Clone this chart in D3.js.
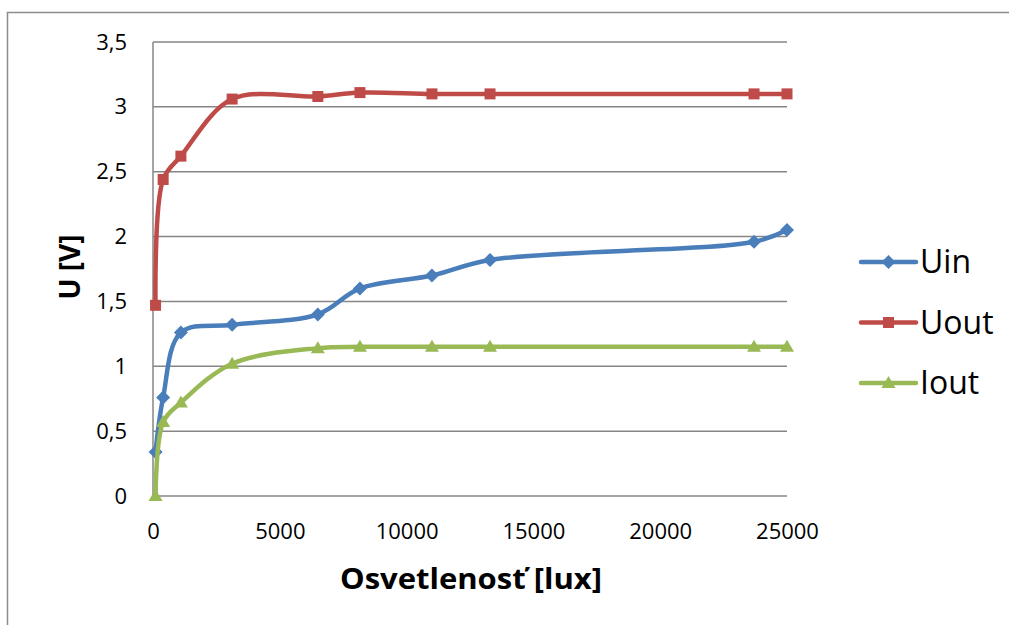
<!DOCTYPE html>
<html>
<head>
<meta charset="utf-8">
<script src="https://d3js.org/d3.v7.min.js"></script>
<style>
  body { margin: 0; background: #fff; }
  text { font-family: "Open Sans", sans-serif; fill: #000; }
</style>
</head>
<body>
<svg width="1009" height="625"></svg>
<script>
// data
var lux = [100, 400, 1100, 3120, 6500, 8160, 11000, 13290, 23700, 25000];
var uin = [0.34, 0.76, 1.26, 1.32, 1.40, 1.60, 1.70, 1.82, 1.96, 2.05];
var uout = [1.47, 2.44, 2.62, 3.06, 3.08, 3.11, 3.10, 3.10, 3.10, 3.10];
var iout = [0, 0.57, 0.72, 1.02, 1.14, 1.15, 1.15, 1.15, 1.15, 1.15];

var seriesNames = ["Uin", "Uout", "Iout"];
var seriesValues = [uin, uout, iout];
var colors = ["#4a7ebb", "#be4b48", "#98b954"];
var markers = ["diamond", "square", "triangle"];

var xTicks = [0, 5000, 10000, 15000, 20000, 25000];
var yTicks = [0, 0.5, 1, 1.5, 2, 2.5, 3, 3.5];

var svg = d3.select("svg"),
    width = +svg.attr("width"),
    height = +svg.attr("height");

// outer chart border (runs off the right / bottom of the picture)
svg.append("rect")
    .attr("x", 7.5).attr("y", 12.5)
    .attr("width", 1100).attr("height", 700)
    .attr("fill", "none")
    .attr("stroke", "#8c8c8c")
    .attr("stroke-width", 1.5);

var x = d3.scaleLinear().domain([0, 25000]).range([153, 787]);
var y = d3.scaleLinear().domain([0, 3.5]).range([496, 42]);

var fmt = function(d) { return String(d).replace(".", ","); };

// horizontal gridlines
svg.append("g")
    .selectAll("line")
    .data(yTicks)
    .enter().append("line")
    .attr("x1", x(0)).attr("x2", x(25000))
    .attr("y1", function(d) { return y(d); })
    .attr("y2", function(d) { return y(d); })
    .attr("stroke", "#868686")
    .attr("stroke-width", 1.5);

// vertical axis line
svg.append("line")
    .attr("x1", x(0)).attr("x2", x(0))
    .attr("y1", y(3.5)).attr("y2", y(0))
    .attr("stroke", "#868686")
    .attr("stroke-width", 1.5);

// y tick labels
var yAxis = d3.axisLeft(y).tickValues(yTicks).tickFormat(fmt).tickSize(0).tickPadding(26);
var gy = svg.append("g").attr("transform", "translate(" + x(0) + ",0)").call(yAxis);
gy.select(".domain").remove();
gy.selectAll("text")
    .style("font-family", "Open Sans")
    .style("font-size", "22px")
    .attr("fill", "#000");

// x tick labels
var xAxis = d3.axisBottom(x).tickValues(xTicks).tickFormat(d3.format("d")).tickSize(0).tickPadding(27);
var gx = svg.append("g").attr("transform", "translate(0," + y(0) + ")").call(xAxis);
gx.select(".domain").remove();
gx.selectAll("text")
    .style("font-family", "Open Sans")
    .style("font-size", "22px")
    .attr("fill", "#000");

// axis titles
svg.append("text")
    .attr("x", 471).attr("y", 589)
    .attr("text-anchor", "middle")
    .attr("textLength", 262)
    .attr("lengthAdjust", "spacingAndGlyphs")
    .style("font-size", "28px")
    .style("font-weight", "bold")
    .text("Osvetlenosť [lux]");

svg.append("text")
    .attr("transform", "translate(80,267) rotate(-90)")
    .attr("text-anchor", "middle")
    .style("font-size", "28px")
    .style("font-weight", "bold")
    .text("U [V]");

// marker shapes
function markerPath(type) {
    if (type === "diamond") return "M0,-7L7,0L0,7L-7,0Z";
    if (type === "square") return "M-5.5,-5.5H5.5V5.5H-5.5Z";
    return "M0,-7L7,5L-7,5Z";
}

var line = d3.line()
    .x(function(d) { return x(d[0]); })
    .y(function(d) { return y(d[1]); })
    .curve(d3.curveCatmullRom.alpha(0.5));

seriesValues.forEach(function(vals, i) {
    var pts = lux.map(function(l, j) { return [l, vals[j]]; });

    svg.append("path")
        .datum(pts)
        .attr("d", line)
        .attr("fill", "none")
        .attr("stroke", colors[i])
        .attr("stroke-width", 4.5)
        .attr("stroke-linejoin", "round")
        .attr("stroke-linecap", "round");

    svg.append("g")
        .selectAll("path")
        .data(pts)
        .enter().append("path")
        .attr("d", markerPath(markers[i]))
        .attr("transform", function(d) { return "translate(" + x(d[0]) + "," + y(d[1]) + ")"; })
        .attr("fill", colors[i]);
});

// legend
var legend = svg.append("g")
    .selectAll("g")
    .data(seriesNames)
    .enter().append("g")
    .attr("transform", function(d, i) { return "translate(861," + (262 + i * 60.5) + ")"; });

legend.append("line")
    .attr("x1", 0).attr("x2", 55)
    .attr("stroke", function(d, i) { return colors[i]; })
    .attr("stroke-width", 4.5)
    .attr("stroke-linecap", "round");

legend.append("path")
    .attr("d", function(d, i) { return markerPath(markers[i]); })
    .attr("transform", "translate(27.5,0)")
    .attr("fill", function(d, i) { return colors[i]; });

legend.append("text")
    .attr("x", 59)
    .attr("y", 0)
    .attr("dy", "0.35em")
    .style("font-size", "32px")
    .text(function(d) { return d; });
</script>
</body>
</html>
